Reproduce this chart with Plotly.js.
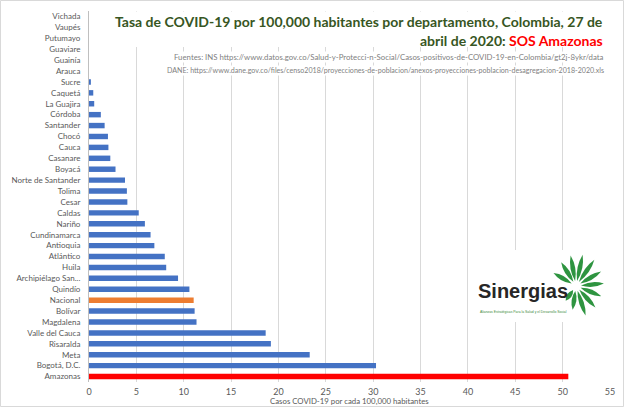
<!DOCTYPE html>
<html>
<head>
<meta charset="utf-8">
<script src="https://cdn.plot.ly/plotly-3.0.1.min.js"></script>
<style>html,body{margin:0;padding:0;background:#fff}#chart{width:624px;height:407px}</style>
</head>
<body>
<div id="chart"></div>
<script>
// Data (top to bottom as in the chart)
const departments = ['Vichada','Vaupés','Putumayo','Guaviare','Guainía','Arauca','Sucre','Caquetá','La Guajira','Córdoba',
  'Santander','Chocó','Cauca','Casanare','Boyacá','Norte de Santander','Tolima','Cesar','Caldas','Nariño',
  'Cundinamarca','Antioquia','Atlántico','Huila','Archipiélago San...','Quindío','Nacional','Bolívar','Magdalena','Valle del Cauca',
  'Risaralda','Meta','Bogotá, D.C.','Amazonas'];
const rates = [0,0,0,0,0,0,0.2,0.45,0.55,1.25,
  1.65,2.0,2.05,2.25,2.8,3.8,4.0,4.05,5.25,5.9,
  6.5,6.9,8.0,8.15,9.4,10.6,11.05,11.15,11.35,18.65,
  19.2,23.3,30.3,50.6];
const xTicks = [0,5,10,15,20,25,30,35,40,45,50,55];

const titleLine1 = 'Tasa de COVID-19 por 100,000 habitantes por departamento, Colombia, 27 de';
const titleLine2a = 'abril de 2020: ';
const titleLine2b = 'SOS Amazonas';
const source1 = 'Fuentes: INS https://www.datos.gov.co/Salud-y-Protecci-n-Social/Casos-positivos-de-COVID-19-en-Colombia/gt2j-8ykr/data';
const source2 = 'DANE: https://www.dane.gov.co/files/censo2018/proyecciones-de-poblacion/anexos-proyecciones-poblacion-desagregacion-2018-2020.xls';
const xTitle = 'Casos COVID-19 por cada 100,000 habitantes';

const colorFor = n => n === 'Amazonas' ? '#FF0000' : (n === 'Nacional' ? '#ED7D31' : '#4472C4');

// plot-area geometry (pixels)
const L = 89, R = 610, T = 11, B = 382;
const fx = px => (px - L) / (R - L);
const fy = py => 1 - (py - T) / (B - T);

const FONT = 'Lato, "Open Sans", sans-serif';

const shapes = [];
// chart border
shapes.push({type:'rect', xref:'paper', yref:'paper', x0:fx(0.5), x1:fx(623.5), y0:fy(0.5), y1:fy(406.5),
  line:{color:'#D9D9D9', width:1}, fillcolor:'rgba(0,0,0,0)', layer:'below'});
// title cover
shapes.push({type:'rect', xref:'paper', yref:'paper', x0:fx(110), x1:fx(612), y0:fy(11.5), y1:fy(47),
  line:{width:0}, fillcolor:'#FFFFFF', layer:'above'});
// logo cover
shapes.push({type:'rect', xref:'paper', yref:'paper', x0:fx(470), x1:fx(612), y0:fy(250), y1:fy(322),
  line:{width:0}, fillcolor:'#FFFFFF', layer:'above'});

// logo leaves
const cx = 576, cy = 286;
const leaves = [[150,26],[122,28],[100,31],[78,32],[55,32],[30,29],[5,28],[-22,27],[-48,29],[-72,31],[-98,24],[-125,18]];
leaves.forEach(([a,len]) => {
  const r = a*Math.PI/180, ux = Math.cos(r), uy = -Math.sin(r), vx = -uy, vy = ux;
  const r0 = 5, w = 2.4;
  const bx = cx+ux*r0, by = cy+uy*r0;
  const tx = cx+ux*len, ty = cy+uy*len;
  const mx = cx+ux*(r0+len)/2, my = cy+uy*(r0+len)/2;
  const p = (x,y) => fx(x).toFixed(5)+','+fy(y).toFixed(5);
  const path = 'M'+p(bx,by)+' Q'+p(mx+vx*w*2,my+vy*w*2)+' '+p(tx,ty)+' Q'+p(mx-vx*w*2,my-vy*w*2)+' '+p(bx,by)+' Z';
  shapes.push({type:'path', xref:'paper', yref:'paper', path:path, fillcolor:'#2E9440', line:{width:0}, layer:'above'});
});

const annotations = [
  {xref:'paper', yref:'paper', x:fx(605), y:fy(22), xanchor:'right', yanchor:'middle', showarrow:false,
   text:'<b>'+titleLine1+'</b>', font:{family:FONT, size:14, color:'#375623'}},
  {xref:'paper', yref:'paper', x:fx(605), y:fy(40), xanchor:'right', yanchor:'middle', showarrow:false,
   text:'<b>'+titleLine2a+'<span style="color:#FF0000">'+titleLine2b+'</span></b>', font:{family:FONT, size:14, color:'#375623'}},
  {xref:'paper', yref:'paper', x:fx(605), y:fy(57), xanchor:'right', yanchor:'middle', showarrow:false,
   text:source1, bgcolor:'#FFFFFF', borderpad:0, font:{family:FONT, size:7.8, color:'#7F7F7F'}},
  {xref:'paper', yref:'paper', x:fx(605), y:fy(70), xanchor:'right', yanchor:'middle', showarrow:false,
   text:source2, bgcolor:'#FFFFFF', borderpad:0, font:{family:FONT, size:7.1, color:'#7F7F7F'}},
  {xref:'paper', yref:'paper', x:0.5, y:fy(401), xanchor:'center', yanchor:'middle', showarrow:false,
   text:xTitle, font:{family:FONT, size:7.8, color:'#595959'}},
  {xref:'paper', yref:'paper', x:fx(523), y:fy(291), xanchor:'center', yanchor:'middle', showarrow:false,
   text:'<b>Sinergias</b>', font:{family:'"Liberation Sans", Arial, sans-serif', size:20, color:'#262626'}},
  {xref:'paper', yref:'paper', x:fx(523), y:fy(312), xanchor:'center', yanchor:'middle', showarrow:false,
   text:'Alianzas Estratégicas Para la Salud y el Desarrollo Social', font:{family:'"Liberation Sans", Arial, sans-serif', size:3.4, color:'#3A8A3A'}}
];

const trace = {
  type:'bar', orientation:'h', y:departments, x:rates,
  marker:{color:departments.map(colorFor), line:{width:0}},
  hoverinfo:'x+y'
};

const layout = {
  width:624, height:407,
  margin:{l:L, r:624-R, t:T, b:407-B, pad:0},
  paper_bgcolor:'#FFFFFF', plot_bgcolor:'#FFFFFF',
  showlegend:false, bargap:0.5,
  font:{family:FONT, color:'#595959'},
  xaxis:{range:[0,55], tickmode:'array', tickvals:xTicks, ticktext:xTicks.map(String), showgrid:true, gridcolor:'#D9D9D9', gridwidth:1,
    zeroline:false, showline:false, ticks:'', ticklabelstandoff:3, tickfont:{family:FONT, size:9, color:'#595959'}, fixedrange:true},
  yaxis:{type:'category', autorange:'reversed', tickmode:'array', tickvals:departments, ticktext:departments,
    showgrid:false, zeroline:false, showline:true, linecolor:'#BFBFBF', linewidth:1,
    ticks:'', ticklabelstandoff:6, tickfont:{family:FONT, size:8, color:'#595959'}, fixedrange:true},
  shapes:shapes, annotations:annotations
};

Plotly.newPlot('chart', [trace], layout, {displayModeBar:false, staticPlot:true});
</script>
</body>
</html>
